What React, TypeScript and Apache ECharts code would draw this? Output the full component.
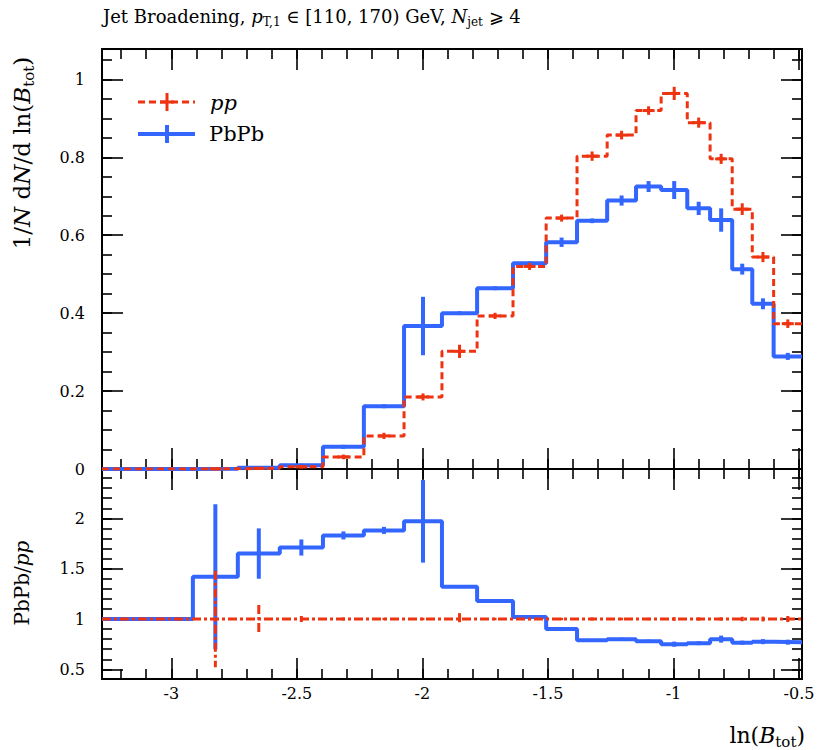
import React, { useEffect, useRef } from "react";
import * as echarts from "echarts";

// ---------- data ----------
const binEdges = [
  -3.276, -3.095, -2.914, -2.735, -2.568, -2.396, -2.233, -2.073, -1.922, -1.782, -1.639,
  -1.507, -1.384, -1.264, -1.149, -1.049, -0.945, -0.854, -0.766, -0.686, -0.601, -0.488,
];
const ppValues = [
  0, 0, 0.0004, 0.0018, 0.0055, 0.031, 0.085, 0.185, 0.302, 0.393, 0.52, 0.644, 0.803, 0.857,
  0.92, 0.964, 0.889, 0.796, 0.667, 0.544, 0.373,
];
const ppErrors = [
  0, 0, 0.002, 0.003, 0.004, 0.006, 0.008, 0.009, 0.017, 0.008, 0.009, 0.009, 0.012, 0.011,
  0.011, 0.017, 0.013, 0.013, 0.015, 0.013, 0.011,
];
const pbpbValues = [
  0, 0, 0.0006, 0.003, 0.0094, 0.057, 0.161, 0.367, 0.4, 0.464, 0.528, 0.582, 0.637, 0.689,
  0.725, 0.716, 0.669, 0.639, 0.513, 0.424, 0.289,
];
const pbpbErrors = [
  0, 0, 0.002, 0.003, 0.004, 0.005, 0.005, 0.075, 0.005, 0.005, 0.005, 0.012, 0.006, 0.013,
  0.014, 0.023, 0.017, 0.03, 0.014, 0.014, 0.009,
];
const ppRatio = [1, 1, 1, 1, 1, 1, 1, 1, 1, 1, 1, 1, 1, 1, 1, 1, 1, 1, 1, 1, 1];
const ppRatioErrors = [
  0, 0, 0.48, 0.14, 0.03, 0.015, 0.012, 0.012, 0.058, 0.012, 0.012, 0.012, 0.015, 0.013,
  0.012, 0.018, 0.015, 0.016, 0.022, 0.024, 0.03,
];
const pbpbRatio = [
  1, 1, 1.42, 1.65, 1.71, 1.83, 1.88, 1.97, 1.32, 1.18, 1.02, 0.9, 0.79, 0.8, 0.78, 0.75, 0.76,
  0.8, 0.765, 0.775, 0.77,
];
const pbpbRatioErrors = [
  0, 0, 0.72, 0.25, 0.08, 0.04, 0.035, 0.41, 0.012, 0.012, 0.012, 0.02, 0.012, 0.015, 0.015,
  0.025, 0.02, 0.035, 0.02, 0.025, 0.025,
];

const xMajorTicks = [-3, -2.5, -2, -1.5, -1, -0.5];
const xTickLabels = ["-3", "-2.5", "-2", "-1.5", "-1", "-0.5"];
const mainYTicks = [0, 0.2, 0.4, 0.6, 0.8, 1];
const mainYLabels = ["0", "0.2", "0.4", "0.6", "0.8", "1"];
const ratioYTicks = [0.5, 1, 1.5, 2];
const ratioYLabels = ["0.5", "1", "1.5", "2"];

// ---------- layout / style ----------
const X_MIN = -3.276;
const X_MAX = -0.488;
const MAIN_Y = [0, 1.078];
const RATIO_Y = [0.404, 2.49];
const GRID_LEFT = 102;
const GRID_W = 700;
const RED = "#EE3311";
const BLUE = "#3366FF";
const FONT = "DejaVu Serif";
const RED_DASH = [7, 4];
const RED_DASH_DOT = [9, 3, 3, 3];

function range(from: number, to: number, step: number): number[] {
  const out: number[] = [];
  const n = Math.round((to - from) / step);
  for (let i = 0; i <= n; i++) out.push(Math.round((from + step * i) * 1000) / 1000);
  return out;
}
const xMinorTicks = range(-3.2, -0.5, 0.1);
const mainYMinor = range(0, 1.05, 0.05);
const ratioYMinor = range(0.5, 2.4, 0.1);

function labelFor(ticks: number[], labels: string[]) {
  return (v: number) => {
    const i = ticks.findIndex((t) => Math.abs(t - v) < 1e-6);
    return i >= 0 ? labels[i] : "";
  };
}

function stepPoints(values: number[]) {
  const pts: number[][] = [];
  values.forEach((v, i) => {
    pts.push([binEdges[i], v]);
    pts.push([binEdges[i + 1], v]);
  });
  return pts;
}

function makeX(gridIndex: number, position: string, ticks: number[], len: number, withLine: boolean, labels?: string[]) {
  return {
    type: "value",
    gridIndex,
    position,
    min: X_MIN,
    max: X_MAX,
    axisLine: { show: withLine, onZero: false, lineStyle: { color: "#000", width: 2 } },
    axisTick: { show: true, inside: true, length: len, customValues: ticks, lineStyle: { color: "#000", width: 1.6 } },
    axisLabel: labels
      ? {
          show: true,
          customValues: xMajorTicks,
          formatter: labelFor(xMajorTicks, labels),
          fontFamily: FONT,
          fontSize: 16,
          color: "#000",
          margin: 6,
        }
      : { show: false },
    splitLine: { show: false },
  };
}

function makeY(gridIndex: number, position: string, min: number, max: number, ticks: number[], len: number, withLine: boolean, majors?: number[], labels?: string[]) {
  return {
    type: "value",
    gridIndex,
    position,
    min,
    max,
    axisLine: { show: withLine, onZero: false, lineStyle: { color: "#000", width: 2 } },
    axisTick: { show: true, inside: true, length: len, customValues: ticks, lineStyle: { color: "#000", width: 1.6 } },
    axisLabel:
      labels && majors
        ? {
            show: true,
            customValues: majors,
            formatter: labelFor(majors, labels),
            fontFamily: FONT,
            fontSize: 16,
            color: "#000",
            margin: 17,
          }
        : { show: false },
    splitLine: { show: false },
  };
}

function lineSeries(values: number[], xi: number, yi: number, color: string, width: number, dash: any, z: number) {
  return {
    type: "line",
    xAxisIndex: xi,
    yAxisIndex: yi,
    data: stepPoints(values),
    showSymbol: false,
    symbol: "none",
    silent: true,
    clip: true,
    z,
    lineStyle: { color, width, type: dash },
  };
}

function errorSeries(values: number[], errors: number[], xi: number, yi: number, color: string, width: number, dash: any, cap: number, z: number) {
  const data = values
    .map((v, i) => [(binEdges[i] + binEdges[i + 1]) / 2, v, errors[i]])
    .filter((d) => d[2] > 0);
  return {
    type: "custom",
    xAxisIndex: xi,
    yAxisIndex: yi,
    data,
    silent: true,
    z,
    encode: { x: 0, y: 1 },
    renderItem: (params: any, api: any) => {
      const c = api.value(0);
      const v = api.value(1);
      const e = api.value(2);
      const top = api.coord([c, v + e]);
      const bot = api.coord([c, v - e]);
      const mid = api.coord([c, v]);
      const bottomLimit = params.coordSys.y + params.coordSys.height;
      const children: any[] = [
        {
          type: "line",
          shape: { x1: top[0], y1: Math.max(top[1], params.coordSys.y), x2: bot[0], y2: Math.min(bot[1], bottomLimit) },
          style: { stroke: color, lineWidth: width, lineDash: dash || null },
        },
      ];
      if (cap > 0) {
        children.push({
          type: "line",
          shape: { x1: mid[0] - cap, y1: mid[1], x2: mid[0] + cap, y2: mid[1] },
          style: { stroke: color, lineWidth: width },
        });
      }
      return { type: "group", children };
    },
  };
}

function rich(size: number) {
  return {
    n: { fontFamily: FONT, fontSize: size, lineHeight: size + 6, color: "#000" },
    i: { fontFamily: FONT, fontSize: size, lineHeight: size + 6, fontStyle: "italic", color: "#000" },
    s: { fontFamily: FONT, fontSize: Math.round(size * 0.66), lineHeight: Math.round(size * 0.7), verticalAlign: "bottom", color: "#000" },
  };
}

export default function App() {
  const ref = useRef<HTMLDivElement>(null);

  useEffect(() => {
    if (!ref.current) return;
    const chart = echarts.init(ref.current, null, { renderer: "svg" });

    const option: any = {
      animation: false,
      backgroundColor: "#fff",
      grid: [
        { left: GRID_LEFT, top: 49, width: GRID_W, height: 420, containLabel: false },
        { left: GRID_LEFT, top: 469, width: GRID_W, height: 210, containLabel: false },
      ],
      xAxis: [
        makeX(0, "bottom", xMajorTicks, 21, true),
        makeX(0, "top", xMajorTicks, 21, true),
        makeX(0, "bottom", xMinorTicks, 10, false),
        makeX(0, "top", xMinorTicks, 10, false),
        makeX(1, "bottom", xMajorTicks, 21, true, xTickLabels),
        makeX(1, "top", xMajorTicks, 21, true),
        makeX(1, "bottom", xMinorTicks, 10, false),
        makeX(1, "top", xMinorTicks, 10, false),
      ],
      yAxis: [
        makeY(0, "left", MAIN_Y[0], MAIN_Y[1], mainYTicks, 21, true, mainYTicks, mainYLabels),
        makeY(0, "right", MAIN_Y[0], MAIN_Y[1], mainYTicks, 21, true),
        makeY(0, "left", MAIN_Y[0], MAIN_Y[1], mainYMinor, 10, false),
        makeY(0, "right", MAIN_Y[0], MAIN_Y[1], mainYMinor, 10, false),
        makeY(1, "left", RATIO_Y[0], RATIO_Y[1], ratioYTicks, 21, true, ratioYTicks, ratioYLabels),
        makeY(1, "right", RATIO_Y[0], RATIO_Y[1], ratioYTicks, 21, true),
        makeY(1, "left", RATIO_Y[0], RATIO_Y[1], ratioYMinor, 10, false),
        makeY(1, "right", RATIO_Y[0], RATIO_Y[1], ratioYMinor, 10, false),
      ],
      series: [
        lineSeries(pbpbValues, 0, 0, BLUE, 4, "solid", 2),
        errorSeries(pbpbValues, pbpbErrors, 0, 0, BLUE, 4, null, 0, 3),
        lineSeries(ppValues, 0, 0, RED, 3, RED_DASH, 4),
        errorSeries(ppValues, ppErrors, 0, 0, RED, 3, null, 6, 5),
        lineSeries(pbpbRatio, 4, 4, BLUE, 4, "solid", 2),
        errorSeries(pbpbRatio, pbpbRatioErrors, 4, 4, BLUE, 4, null, 0, 3),
        lineSeries(ppRatio, 4, 4, RED, 3, RED_DASH_DOT, 4),
        errorSeries(ppRatio, ppRatioErrors, 4, 4, RED, 3, RED_DASH_DOT, 0, 5),
      ],
      graphic: [
        {
          type: "text",
          left: 103,
          top: 7,
          style: {
            text: "{n|Jet Broadening, }{i|p}{s|T,1}{n| ∈ [110, 170) GeV, }{i|N}{s|jet}{n| ⩾ 4}",
            rich: rich(18),
          },
        },
        {
          type: "text",
          x: 22,
          y: 153,
          rotation: Math.PI / 2,
          style: {
            text: "{n|1/}{i|N}{n| d}{i|N}{n|/d ln(}{i|B}{s|tot}{n|)}",
            rich: rich(23),
            align: "center",
            verticalAlign: "middle",
          },
        },
        {
          type: "text",
          x: 22,
          y: 583,
          rotation: Math.PI / 2,
          style: {
            text: "{n|PbPb/}{i|pp}",
            rich: rich(20),
            align: "center",
            verticalAlign: "middle",
          },
        },
        {
          type: "text",
          x: 805,
          y: 735,
          style: {
            text: "{n|ln(}{i|B}{s|tot}{n|)}",
            rich: rich(22),
            align: "right",
            verticalAlign: "middle",
          },
        },
        // legend
        { type: "line", shape: { x1: 138, y1: 102, x2: 195, y2: 102 }, style: { stroke: RED, lineWidth: 3, lineDash: RED_DASH } },
        { type: "line", shape: { x1: 167, y1: 93, x2: 167, y2: 111 }, style: { stroke: RED, lineWidth: 3 } },
        { type: "line", shape: { x1: 160, y1: 102, x2: 174, y2: 102 }, style: { stroke: RED, lineWidth: 3 } },
        {
          type: "text",
          x: 210,
          y: 103,
          style: { text: "pp", fontFamily: FONT, fontSize: 21, fontStyle: "italic", fill: "#000", verticalAlign: "middle" },
        },
        { type: "line", shape: { x1: 138, y1: 134, x2: 195, y2: 134 }, style: { stroke: BLUE, lineWidth: 4 } },
        { type: "line", shape: { x1: 167, y1: 125, x2: 167, y2: 143 }, style: { stroke: BLUE, lineWidth: 4 } },
        {
          type: "text",
          x: 209,
          y: 134,
          style: { text: "PbPb", fontFamily: FONT, fontSize: 21, fill: "#000", verticalAlign: "middle" },
        },
      ],
    };

    chart.setOption(option);
    return () => chart.dispose();
  }, []);

  return (
    <div
      ref={ref}
      style={{ position: "fixed", left: 0, top: 0, width: 830, height: 750, background: "#fff" }}
    />
  );
}
